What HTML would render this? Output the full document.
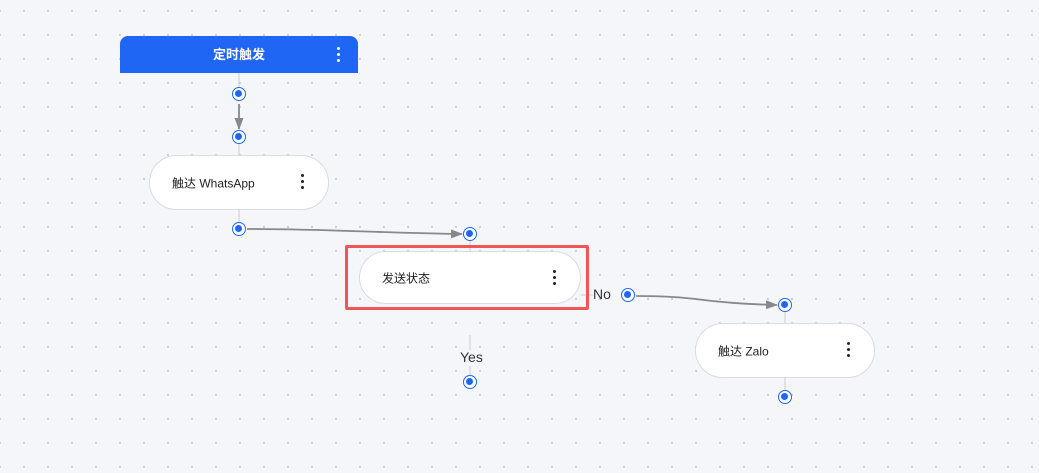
<!DOCTYPE html>
<html><head><meta charset="utf-8"><style>
body{margin:0;width:1039px;height:473px;overflow:hidden;background:#f5f6fa;
background-image:radial-gradient(circle,#c9ccd4 1px,transparent 1.2px);background-size:24px 24px;background-position:-12px -1px;
font-family:"Liberation Sans","Noto Sans CJK SC",sans-serif;position:relative}
.n{position:absolute;background:#fff;border:1px solid #d9dbe0;border-radius:28px;box-sizing:border-box;font-size:12px;color:#222}
.n span{position:absolute;left:22px;top:50%;transform:translateY(-50%)}
.k{position:absolute;width:3px;}
.k i{display:block;width:3px;height:3px;border-radius:50%;background:#222;margin-bottom:3px}
.p{position:absolute;border:1.5px solid #1f66f5;border-radius:50%;background:#fff;box-sizing:border-box;transform:translate(-50%,-50%);width:14px;height:14px}
.p:after{content:"";position:absolute;left:2px;top:2px;width:7px;height:7px;border-radius:50%;background:#1f66f5}
.t{position:absolute;font-size:14px;color:#333}
</style></head><body>
<svg width="1039" height="473" style="position:absolute;left:0;top:0">
<defs><marker id="a" markerWidth="12" markerHeight="9" refX="11" refY="4.5" orient="auto" markerUnits="userSpaceOnUse"><path d="M0,0L12,4.5L0,9z" fill="#888"/></marker></defs>
<g stroke="#ccc" stroke-width="1">
<line x1="239" y1="73" x2="239" y2="88"/><line x1="239" y1="143" x2="239" y2="155"/>
<line x1="239" y1="210" x2="239" y2="223"/><line x1="470" y1="240" x2="470" y2="251"/>
<line x1="581" y1="295" x2="593" y2="295"/><line x1="785" y1="311" x2="785" y2="323"/>
<line x1="785" y1="378" x2="785" y2="391"/><line x1="470" y1="335" x2="470" y2="350"/>
<line x1="470" y1="366" x2="470" y2="376"/></g>
<g stroke="#888" stroke-width="1.8" fill="none" marker-end="url(#a)">
<line x1="239" y1="104" x2="239" y2="129"/>
<path d="M247,229 C330,229 380,233 462,234"/>
<path d="M636,296 C700,296 700,303 777,305"/></g>
</svg>
<div style="position:absolute;left:120px;top:36px;width:238px;height:37px;background:#1f66f5;border-radius:8px 8px 0 0;color:#fff;font-weight:bold;font-size:13px;text-align:center;line-height:37px">定时触发</div>
<div class="k" style="left:337px;top:47px"><i style="background:#fff"></i><i style="background:#fff"></i><i style="background:#fff"></i></div>
<div class="n" style="left:149px;top:155px;width:180px;height:55px"><span>触达 WhatsApp</span></div>
<div class="k" style="left:301px;top:174px"><i></i><i></i><i></i></div>
<div style="position:absolute;left:345px;top:245px;width:244px;height:65px;border:3px solid #f25555;box-sizing:border-box;border-radius:2px"></div>
<div class="n" style="left:359px;top:251px;width:222px;height:53px"><span>发送状态</span></div>
<div class="k" style="left:553px;top:270px"><i></i><i></i><i></i></div>
<div class="n" style="left:695px;top:323px;width:180px;height:55px"><span>触达 Zalo</span></div>
<div class="k" style="left:847px;top:342px"><i></i><i></i><i></i></div>
<div class="t" style="left:593px;top:286px">No</div>
<div class="t" style="left:460px;top:349px">Yes</div>
<div class="p" style="left:239px;top:94px"></div><div class="p" style="left:239px;top:137px"></div>
<div class="p" style="left:239px;top:229px"></div><div class="p" style="left:470px;top:234px"></div>
<div class="p" style="left:628px;top:295px"></div><div class="p" style="left:785px;top:305px"></div>
<div class="p" style="left:785px;top:397px"></div><div class="p" style="left:470px;top:382px"></div>
</body></html>
